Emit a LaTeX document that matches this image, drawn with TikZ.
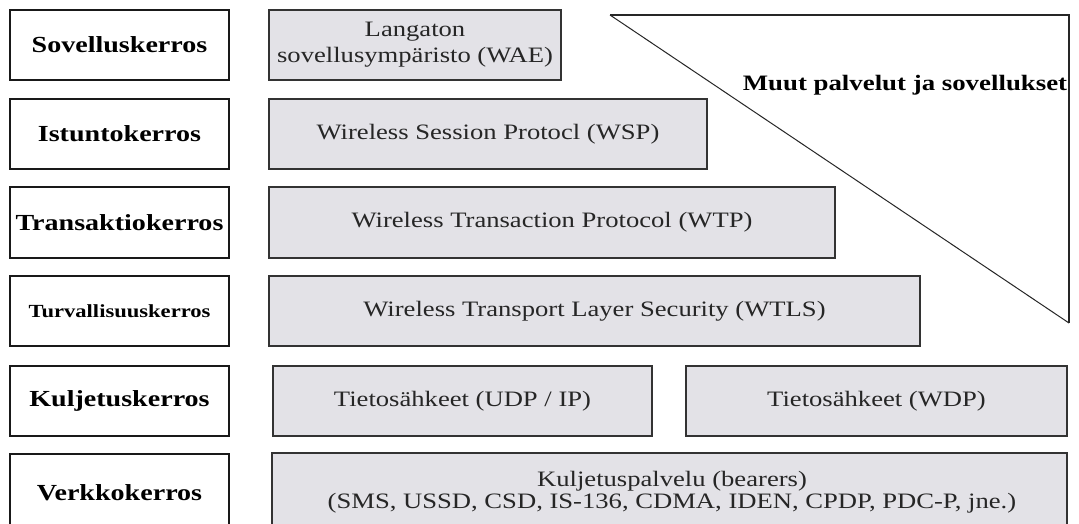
\documentclass[tikz,border=0pt]{standalone}
\usepackage{fontspec}
\setmainfont{Liberation Serif}
\newfontfamily\labelfont[FakeStretch=1.22]{Liberation Serif}
\newfontfamily\layerfont[FakeStretch=1.21]{Liberation Serif}
\definecolor{layerfill}{RGB}{227,226,231}
\begin{document}
\begin{tikzpicture}[x=1pt,y=-1pt,
  leftbox/.style={draw=black!90, line width=1.8pt, fill=white,
    minimum width=219.5pt, minimum height=70.5pt, inner sep=0pt,
    font=\labelfont\bfseries\fontsize{23}{26}\selectfont},
  layerbox/.style={draw=black!80, line width=1.8pt, fill=layerfill,
    minimum height=70.5pt, inner sep=0pt, text=black!85, align=center,
    font=\layerfont\fontsize{22}{26}\selectfont},
  sidetext/.style={inner sep=0pt, text=black,
    font=\labelfont\bfseries\fontsize{22}{26}\selectfont},
]
\useasboundingbox (0,0) rectangle (1079,523);
\fill[white] (0,0) rectangle (1079,523);

% layer names
\node[leftbox] (l1) at (119.5,45)    {Sovelluskerros};
\node[leftbox] (l2) at (119.5,134)   {Istuntokerros};
\node[leftbox] (l3) at (119.5,222.5) {Transaktiokerros};
\node[leftbox, font=\labelfont\bfseries\fontsize{18.5}{22}\selectfont]
               (l4) at (119.5,311)   {Turvallisuuskerros};
\node[leftbox] (l5) at (119.5,401)   {Kuljetuskerros};
\node[leftbox, minimum height=95pt, text depth=0pt]
               (l6) at (119.5,501.5) {};
\node[inner sep=0pt, font=\labelfont\bfseries\fontsize{23}{26}\selectfont]
               (l6t) at (119.5,493) {Verkkokerros};

% protocol stack
\node[layerbox, minimum width=292.5pt] (wae) at (415,45)
  {Langaton\\sovellusympäristo (WAE)};
\node[layerbox, minimum width=438.5pt] (wsp) at (488,134)
  {Wireless Session Protocl (WSP)};
\node[layerbox, minimum width=566.5pt] (wtp) at (552,222.5)
  {Wireless Transaction Protocol (WTP)};
\node[layerbox, minimum width=651.5pt] (wtls) at (594.5,311)
  {Wireless Transport Layer Security (WTLS)};
\node[layerbox, minimum width=379.5pt] (udp) at (462.5,401)
  {Tietosähkeet (UDP / IP)};
\node[layerbox, minimum width=381.5pt] (wdp) at (876.5,401)
  {Tietosähkeet (WDP)};
\node[layerbox, minimum width=795.5pt, minimum height=95pt] (bear) at (669.5,500.5) {};
\node[inner sep=0pt, align=center, text=black!85,
      font=\layerfont\fontsize{22}{22}\selectfont] (beart) at (672,492)
  {Kuljetuspalvelu (bearers)\\(SMS, USSD, CSD, IS-136, CDMA, IDEN, CPDP, PDC-P, jne.)};

% other services
\coordinate (ta) at (610,15);
\coordinate (tb) at (1069,15);
\coordinate (tc) at (1069,323);
\draw[line width=1.3pt, black!85] (tc) -- (tb) -- (ta);
\draw[line width=1pt, black!85] (ta) -- (tc);
\node[sidetext, anchor=base] (muut) at (905,90) {Muut palvelut ja sovellukset};
\end{tikzpicture}
\end{document}
